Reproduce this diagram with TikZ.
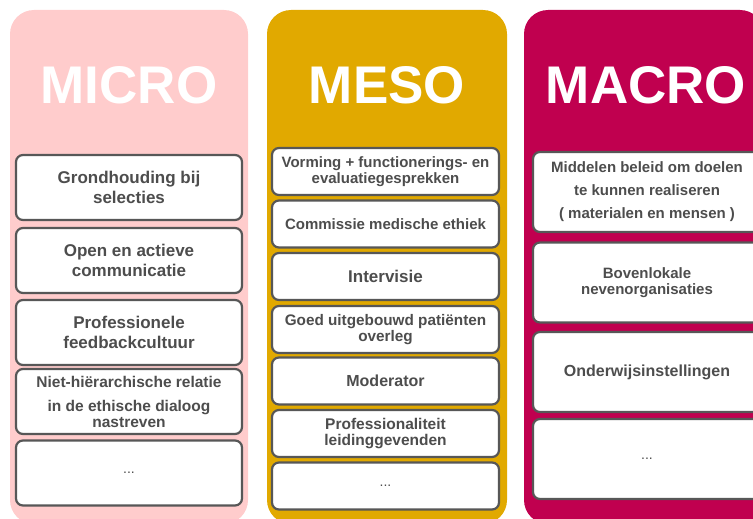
\documentclass[tikz,border=0pt]{standalone}
\usepackage{fontspec}
\setmainfont{Liberation Sans}
\definecolor{microbg}{HTML}{FFCCCC}
\definecolor{mesobg}{HTML}{E1A900}
\definecolor{macrobg}{HTML}{C0004F}
\definecolor{itemline}{HTML}{575757}
\definecolor{itemtext}{HTML}{4D4D4D}
% level panel: left x, right x, colour
\newcommand{\lvlpanel}[3]{%
  \fill[#3, rounded corners=24pt] (#1,10) rectangle (#2,524);%
}

\begin{document}
\begin{tikzpicture}[x=1pt, y=-1pt,
    lvltitle/.style={text=white, anchor=base, inner sep=0pt,
                     font=\fontsize{53}{53}\selectfont\bfseries},
    item/.style={draw=itemline, line width=2.2pt, fill=white, rounded corners=7pt,
                 text=itemtext, align=center, inner sep=2pt,
                 font=\fontsize{17}{19.5}\selectfont\bfseries},
    miitem/.style={item, minimum width=226pt, minimum height=65pt},
    meitem/.style={item, minimum width=227pt, minimum height=47pt,
                   font=\fontsize{15}{16}\selectfont\bfseries},
    maitem/.style={item, minimum width=228pt, minimum height=80pt,
                   font=\fontsize{15}{16}\selectfont\bfseries},
  ]
    \clip (0,0) rectangle (753,519);

    % coloured level panels
    \lvlpanel{10}{248}{microbg}
    \lvlpanel{267}{507}{mesobg}
    \lvlpanel{524}{764}{macrobg}

    % panel titles
    \node[lvltitle] (tmicro) at (129,103) {MICRO};
    \node[lvltitle] (tmeso)  at (387,103) {MESO};
    \node[lvltitle] (tmacro) at (646,103) {MACRO};

    % micro level
    \node[miitem] (mi1) at (129,187.5) {Grondhouding bij\\selecties};
    \node[miitem] (mi2) at (129,260.5) {Open en actieve\\communicatie};
    \node[miitem] (mi3) at (129,332.5) {Professionele\\feedbackcultuur};
    \node[miitem, font=\fontsize{15.5}{16}\selectfont\bfseries] (mi4) at (129,401.5)
      {Niet-hiërarchische relatie\\[8pt]in de ethische dialoog\\nastreven};
    \node[miitem, font=\fontsize{14}{16}\selectfont] (mi5) at (129,473) {...};

    % meso level
    \node[meitem] (me1) at (385.5,171.5) {Vorming + functionerings- en\\evaluatiegesprekken};
    \node[meitem] (me2) at (385.5,224)   {Commissie medische ethiek};
    \node[meitem, font=\fontsize{17}{17}\selectfont\bfseries] (me3) at (385.5,276.5) {Intervisie};
    \node[meitem, font=\fontsize{15.3}{16}\selectfont\bfseries] (me4) at (385.5,329.5)
      {Goed uitgebouwd patiënten\\overleg};
    \node[meitem, font=\fontsize{16}{16}\selectfont\bfseries] (me5) at (385.5,381) {Moderator};
    \node[meitem, font=\fontsize{15.5}{16.5}\selectfont\bfseries] (me6) at (385.5,433.5)
      {Professionaliteit\\leidinggevenden};
    \node[meitem, font=\fontsize{14}{16}\selectfont] (me7) at (385.5,486) {...};

    % macro level
    \node[maitem, font=\fontsize{15}{23}\selectfont\bfseries] (ma1) at (647,192)
      {Middelen beleid om doelen\\te kunnen realiseren\\( materialen en mensen )};
    \node[maitem] (ma2) at (647,282.5) {Bovenlokale\\nevenorganisaties};
    \node[maitem, font=\fontsize{16}{16}\selectfont\bfseries] (ma3) at (647,372) {Onderwijsinstellingen};
    \node[maitem, font=\fontsize{14}{16}\selectfont] (ma4) at (647,459) {...};
  \end{tikzpicture}
\end{document}
